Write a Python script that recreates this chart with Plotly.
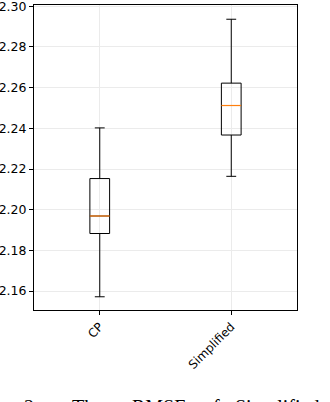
import plotly.graph_objects as go

# Box statistics
categories = ['CP', 'Simplified']
positions = [1, 2]
lower_whisker = [2.1572, 2.2164]
q1_values = [2.1883, 2.2367]
median_values = [2.1969, 2.2512]
q3_values = [2.2153, 2.2622]
upper_whisker = [2.2402, 2.2936]
y_ticks = [2.16, 2.18, 2.20, 2.22, 2.24, 2.26, 2.28, 2.30]

box_width = 0.15

fig = go.Figure()

for pos, lo, q1, med, q3, hi in zip(positions, lower_whisker, q1_values,
                                    median_values, q3_values, upper_whisker):
    fig.add_trace(go.Box(
        x=[pos], q1=[q1], median=[med], q3=[q3],
        lowerfence=[lo], upperfence=[hi],
        width=box_width, whiskerwidth=0.5,
        line=dict(color='black', width=1),
        fillcolor='rgba(0,0,0,0)',
        boxpoints=False, hoverinfo='skip', showlegend=False,
    ))
    # orange median line, matplotlib style
    fig.add_trace(go.Scatter(
        x=[pos - box_width / 2, pos + box_width / 2], y=[med, med],
        mode='lines', line=dict(color='#ff7f0e', width=1.2),
        hoverinfo='skip', showlegend=False,
    ))

axis_common = dict(
    showline=True, linecolor='black', linewidth=1, mirror=True,
    ticks='outside', ticklen=4, tickcolor='black', tickwidth=1,
    showgrid=True, gridcolor='#ebebeb', gridwidth=1, zeroline=False,
    automargin=False, ticklabeloverflow='allow',
)

fig.update_layout(
    width=330, height=402,
    margin=dict(l=34, r=33, t=5, b=92, autoexpand=False),
    plot_bgcolor='white', paper_bgcolor='white',
    font=dict(family='DejaVu Sans', color='black', size=12),
    xaxis=dict(range=[0.5, 2.5], tickvals=positions, ticktext=categories,
               tickangle=-45, tickfont=dict(size=12), **axis_common),
    yaxis=dict(range=[2.1507, 2.3006], tickvals=y_ticks,
               tickformat='.2f', tickfont=dict(size=12.5), **axis_common),
)

# cut-off caption at the bottom of the page
caption_words = ['2.', 'The', 'RMSE', 'of', 'Simplified']
caption_x = [22, 70, 130, 201, 233]
for word, px in zip(caption_words, caption_x):
    fig.add_annotation(
        text=word, xref='paper', yref='paper',
        x=(px - 34) / 263, y=(310 - 393.5) / 305,
        xanchor='left', yanchor='top', showarrow=False,
        font=dict(family='Liberation Serif', size=20, color='black'),
    )

# drop the default body margin so the figure sits at the window corner
fig.write_html("out.html", config={'displayModeBar': False},
               post_script="document.body.style.margin='0';")
